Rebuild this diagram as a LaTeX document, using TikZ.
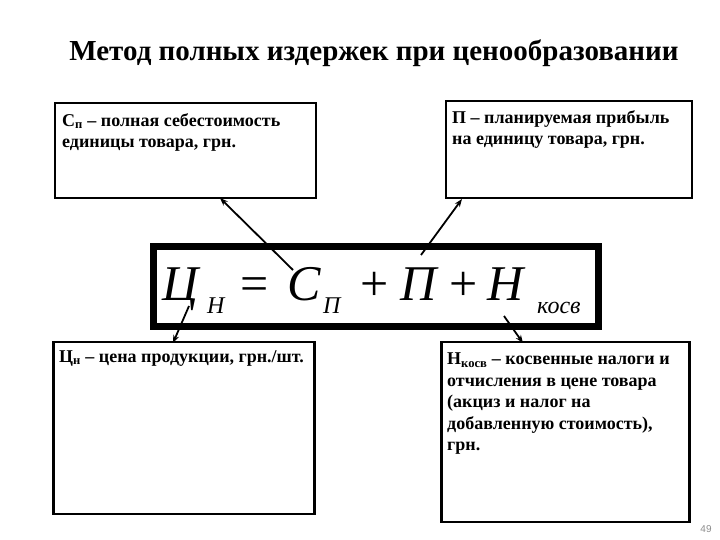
\documentclass[tikz,border=0pt]{standalone}
\usepackage{fontspec}
\setmainfont{Liberation Serif}
\newfontfamily\pagenumfont{Liberation Sans}
\usetikzlibrary{arrows.meta}
\tikzset{
  infobox/.style={draw, line width=2.2pt, inner sep=0pt},
  infotext/.style={anchor=north west, inner sep=0pt, align=left,
    font=\fontsize{18}{21.5}\selectfont\bfseries},
  fbig/.style={anchor=base west, inner sep=0pt, font=\fontsize{50}{50}\selectfont\itshape},
  fsub/.style={anchor=base west, inner sep=0pt, font=\fontsize{24}{24}\selectfont\itshape},
  fop/.style={anchor=base west, inner sep=0pt, font=\fontsize{50}{50}\selectfont},
  pointer/.style={line width=1.8pt, -{Stealth[length=8pt,width=6pt]}}
}
\begin{document}
\begin{tikzpicture}[x=1pt,y=-1pt]
\useasboundingbox (0,0) rectangle (720,540);
% title
\node[anchor=base, inner sep=0pt, font=\fontsize{29}{29}\selectfont\bfseries] (title) at (374,61) {Метод полных издержек при ценообразовании};
% boxes
\node[infobox, minimum width=261pt, minimum height=95pt] (tl) at (185.5,150.5) {};
\node[infobox, minimum width=246pt, minimum height=97pt] (tr) at (569,149.5) {};
\node[infobox, minimum width=261pt, minimum height=172pt] (bl) at (184,428) {};
\node[infobox, minimum width=248pt, minimum height=180pt] (br) at (565.5,432) {};
\node[draw, line width=6.5pt, minimum width=445pt, minimum height=80pt, inner sep=0pt] (fbox) at (376,286.5) {};
% texts
\node[infotext] (tltext) at (62,113) {С\textsubscript{п} – полная себестоимость\\единицы товара, грн.};
\node[infotext] (trtext) at (452,110) {П – планируемая прибыль\\на единицу товара, грн.};
\node[infotext] (bltext) at (59,350) {Ц\textsubscript{н} – цена продукции, грн./шт.};
\node[infotext] (brtext) at (447,353) {Н\textsubscript{косв} – косвенные налоги и\\отчисления в цене товара\\(акциз и налог на\\добавленную стоимость),\\грн.};
% formula
\node[fbig] (fC) at (162,300) {Ц};
\node[fsub] (fCs) at (207,313) {Н};
\node[fop] (feq) at (240,300) {=};
\node[fbig] (fS) at (287,300) {С};
\node[fsub] (fSs) at (323,313) {П};
\node[fop] (fp1) at (360,300) {+};
\node[fbig] (fP) at (400,300) {П};
\node[fop] (fp2) at (449,300) {+};
\node[fbig] (fN) at (487,300) {Н};
\node[fsub] (fNs) at (537,313) {косв};
% arrow anchor points
\coordinate (sS) at (293,270);
\coordinate (sP) at (421,255);
\coordinate (sC) at (189,306);
\coordinate (sN) at (504,316);
\coordinate (eS) at (220,198);
\coordinate (eP) at (462,199);
\coordinate (eC) at (173,343);
\coordinate (eN) at (523,343);
\draw[pointer] (sS) -- (eS);
\draw[pointer] (sP) -- (eP);
\draw[pointer] (sC) -- (eC);
\draw[pointer] (sN) -- (eN);
% page number
\node[anchor=base, inner sep=0pt, text=black!45, font=\pagenumfont\fontsize{10}{10}\selectfont] (pnum) at (706,532) {49};
\end{tikzpicture}
\end{document}
